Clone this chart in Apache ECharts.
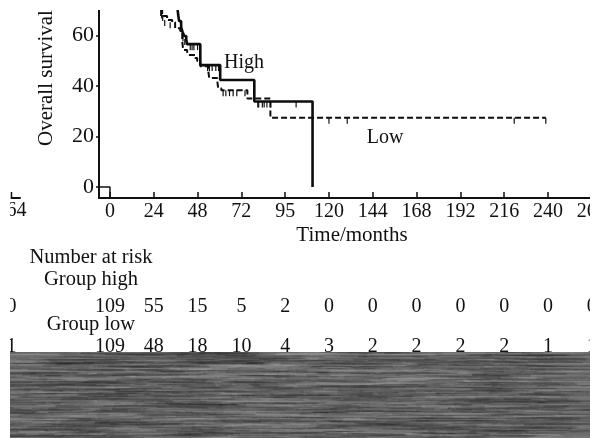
<!DOCTYPE html>
<html><head><meta charset="utf-8">
<style>html,body{margin:0;padding:0;background:#fff}#c{width:593px;height:438px}</style>
<script src="https://cdn.jsdelivr.net/npm/echarts@6/dist/echarts.min.js"></script>
</head><body><div id="c"></div>
<script>
var highCurve=[[36.8,72],[37.4,68],[37.9,65.6],[39,63.2],[39.8,61.3],[40.7,59.7],[41.8,58.1],[42.3,56.5],[49.5,48.2],[60.4,42.3],[79.1,33.8],[111,33.8],[111,0]];
var lowCurve=[[27.5,70],[28.6,67.6],[31.3,66],[34.1,65.2],[35.7,62.8],[38.5,61.7],[39.6,57.7],[40.1,54.2],[42.3,53.4],[42.9,52.2],[46.7,51],[47.8,49.8],[49.5,47.8],[53.8,46.2],[54.4,43.1],[58.8,41.9],[59.3,39.1],[61,38.3],[75.3,35],[87.9,27.4],[238.8,27.4]];
var originStub=[[-6,0],[0,0],[0,-4.35]];
var highCensor=[[40,60],[41,58.5],[44,56.5],[45,56.5],[46,56.5],[48,56.5],[53.5,48.2],[54.5,48.2],[56,48.2],[58,48.2],[59.5,48.2],[81,33.8],[81.5,33.8],[83.5,33.8],[84.5,33.8],[86,33.8],[88,33.8],[102,33.8]];
var lowCensor=[[27.8,70],[28.3,69],[28.9,68],[30,66],[33,65.2],[62,38.3],[63.5,38.3],[65.5,38.3],[67.5,38.3],[69.5,38.3],[74,38.3],[120,27.4],[130,27.4],[221.5,27.4],[238.8,27.4]];
var xTicks=[0,24,48,72,96,120,144,168,192,216,240,264];
var xTickLabels=['0','24','48','72','95','120','144','168','192','216','240','264'];
var yTicks=[0,20,40,60];
var riskTimes=[-54,0,24,48,72,96,120,144,168,192,216,240,264];
var riskHigh=[0,109,55,15,5,2,0,0,0,0,0,0,0];
var riskLow=[1,109,48,18,10,4,3,2,2,2,2,1,1];

var FONT='"Liberation Serif","Times New Roman",serif', INK='#111';
function noise(){
  var w=580,h=86,c=document.createElement('canvas');c.width=w;c.height=h;
  var g=c.getContext('2d');g.fillStyle='#6c6c6c';g.fillRect(0,0,w,h);
  var s=12345;function r(){s=(s*1103515245+12345)&0x7fffffff;return s/0x7fffffff;}
  g.filter='blur(0.6px)';
  for(var i=0;i<3200;i++){
    var x=r()*w-40,y=r()*h,l=20+r()*80,d=r()<0.5;
    g.strokeStyle=d?'rgba(35,35,35,'+(0.08+r()*0.2)+')':'rgba(170,170,170,'+(0.06+r()*0.17)+')';
    g.lineWidth=0.8+r()*1.3;g.beginPath();g.moveTo(x,y);g.lineTo(x+l,y+(r()-0.4)*2);g.stroke();
  }
  return c;
}
function txt(t,x,y,size,rot){return {type:'text',x:x,y:y,rotation:rot||0,z:20,style:{text:t,font:size+'px '+FONT,fill:INK,textAlign:'center',textVerticalAlign:'middle'}};}
function censor(d,name){return {type:'scatter',xAxisIndex:0,yAxisIndex:0,data:d,symbol:'rect',symbolSize:[1.2,6],symbolOffset:[0,3],itemStyle:{color:'#111',opacity:1},silent:true,clip:true,name:name};}
function riskSeries(vals,row){
  return {type:'scatter',name:'risk '+row,xAxisIndex:2,yAxisIndex:2,symbolSize:1,itemStyle:{color:'rgba(0,0,0,0)',opacity:1},clip:false,
    data:riskTimes.map(function(t,i){return [t,row,vals[i]];}),
    label:{show:true,position:'inside',color:INK,fontFamily:FONT,fontSize:20,textBorderWidth:0,formatter:function(p){return String(p.value[2]);}}};
}
var chart=echarts.init(document.getElementById('c'),null,{renderer:'canvas'});
chart.setOption({
  animation:false,backgroundColor:'#fff',
  grid:[
    {left:99,top:10,width:492.8,height:188,outerBoundsMode:'none'},
    {left:11.5,top:190,width:8.5,height:8,outerBoundsMode:'none'},
    {left:11.45,top:286,width:580.35,height:81,outerBoundsMode:'none'}
  ],
  xAxis:[
    {type:'value',gridIndex:0,min:-6,max:264,splitLine:{show:false},
     axisLine:{onZero:false,lineStyle:{color:'#111',width:2}},
     axisTick:{inside:true,length:6,customValues:xTicks,lineStyle:{color:'#111',width:1.5}},
     axisLabel:{customValues:xTicks,margin:4,showMinLabel:true,showMaxLabel:true,hideOverlap:false,color:INK,fontFamily:FONT,fontSize:20,
       formatter:function(v){return xTickLabels[xTicks.indexOf(v)];}}},
    {type:'value',gridIndex:1,min:0,max:5,interval:5,splitLine:{show:false},axisLine:{onZero:false,lineStyle:{color:'#111',width:2}},
     axisTick:{show:false},axisLabel:{show:false}},
    {type:'value',gridIndex:2,min:-54,max:264,show:false}
  ],
  yAxis:[
    {type:'value',gridIndex:0,min:-4.35,max:70,splitLine:{show:false},
     axisLine:{onZero:false,lineStyle:{color:'#111',width:2}},
     axisTick:{length:3,customValues:yTicks,lineStyle:{color:'#111',width:1.5}},
     axisLabel:{customValues:yTicks,margin:5,color:INK,fontFamily:FONT,fontSize:22}},
    {type:'value',gridIndex:1,min:0,max:1,interval:1,splitLine:{show:false},axisLine:{show:false},
     axisTick:{show:false},axisLabel:{show:false}},
    {type:'category',gridIndex:2,data:['low','high'],show:false}
  ],
  series:[
    {type:'line',name:'High',data:highCurve,step:'end',symbol:'none',lineStyle:{color:'#0c0c0c',width:2.6}},
    {type:'line',name:'Low',data:lowCurve,step:'end',symbol:'none',lineStyle:{color:'#0c0c0c',width:2,type:[6,3]}},
    {type:'line',name:'origin',data:originStub,symbol:'none',lineStyle:{color:'#111',width:1.5}},
    censor(highCensor,'High censored'),censor(lowCensor,'Low censored'),
    {type:'scatter',name:'stub',xAxisIndex:1,yAxisIndex:1,data:[[0,0]],symbol:'rect',symbolSize:[1.5,6],symbolOffset:[0,-3],itemStyle:{color:'#111',opacity:1}},
    riskSeries(riskHigh,'high'),riskSeries(riskLow,'low')
  ],
  graphic:[
    txt('Overall survival',46,78,21,Math.PI/2),
    txt('High',244,63,20),txt('Low',385,138,20),
    txt('Time/months',352,235,21),
    txt('64',16.6,211,20),
    txt('Number at risk',91,258,20.5),
    txt('Group high',91,280,20.5),
    txt('Group low',91,325,20.5),
    {type:'image',x:10,y:352,z:50,style:{image:noise(),x:0,y:0,width:580,height:86}},
    {type:'rect',z:60,shape:{x:0,y:0,width:10,height:438},style:{fill:'#fff'}},
    {type:'rect',z:60,shape:{x:590,y:0,width:3,height:438},style:{fill:'#fff'}},
    {type:'rect',z:60,shape:{x:0,y:0,width:593,height:10},style:{fill:'#fff'}}
  ]
});
</script></body></html>
